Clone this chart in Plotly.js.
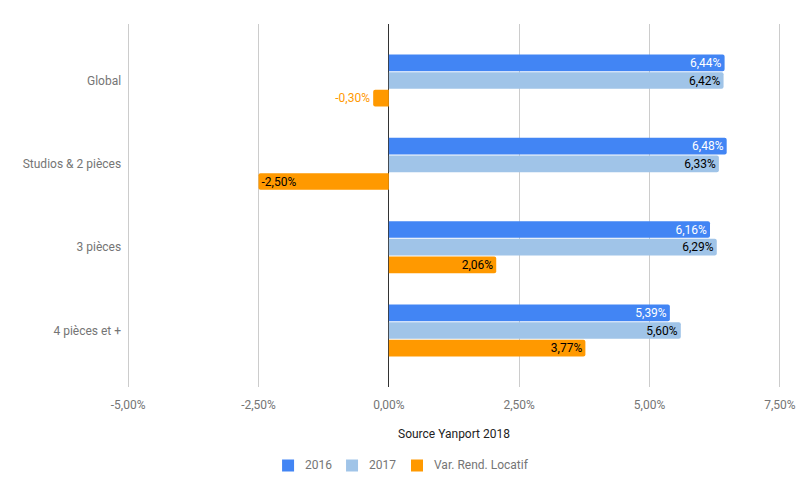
<!DOCTYPE html>
<html>
<head>
<meta charset="utf-8">
<script src="https://cdn.plot.ly/plotly-3.0.1.min.js"></script>
<style>html,body{margin:0;padding:0;background:#fff;}#chart{width:806px;height:498px;}</style>
</head>
<body>
<div id="chart"></div>
<script>
var categories = ["Global", "Studios & 2 pièces", "3 pièces", "4 pièces et +"];
var series2016 = [6.44, 6.48, 6.16, 5.39];
var series2017 = [6.42, 6.33, 6.29, 5.60];
var seriesVar = [-0.30, -2.50, 2.06, 3.77];
var seriesNames = ["2016", "2017", "Var. Rend. Locatif"];
var tickValues = [-5, -2.5, 0, 2.5, 5, 7.5];
var tickLabels = ["-5,00%", "-2,50%", "0,00%", "2,50%", "5,00%", "7,50%"];

function fmt(v) { return v.toFixed(2).replace('.', ',') + '%'; }

var font = "Roboto, Arial, sans-serif";
var colors = ['#4285F4', '#A0C4E8', '#FF9900'];

function mk(name, vals, color, inColor, outColor) {
  return {
    type: 'bar', orientation: 'h', name: name,
    y: categories, x: vals,
    text: vals.map(fmt), textposition: 'auto',
    insidetextanchor: 'end',
    insidetextfont: {family: font, size: 12, color: inColor},
    outsidetextfont: {family: font, size: 12, color: outColor},
    marker: {color: color},
    hoverinfo: 'none', cliponaxis: false, showlegend: false
  };
}

var data = [
  mk(seriesNames[0], series2016, colors[0], '#ffffff', colors[0]),
  mk(seriesNames[1], series2017, colors[1], '#000000', colors[1]),
  mk(seriesNames[2], seriesVar, colors[2], '#000000', '#FF9900')
];

// -5 at x=128px, 7.5 at x=780px; y plot area 24..387
var PXU = (780 - 128) / 12.5;
var PAD = 0.06;
var L = 128 - PAD * PXU, R = 780 + PAD * PXU, T = 24, B = 387;
function px(x) { return (x - L) / (R - L); }
function py(y) { return (B - y) / (B - T); }

// custom legend (positions in pixels)
var legBoxX = [282, 346, 411];
var legTextX = [303, 367, 432];
var legY = 465.5;
var shapes = [], annotations = [];
for (var i = 0; i < 3; i++) {
  shapes.push({type: 'rect', xref: 'paper', yref: 'paper',
    x0: px(legBoxX[i]), x1: px(legBoxX[i] + 12), y0: py(legY - 6), y1: py(legY + 6),
    fillcolor: colors[i], line: {width: 0}});
  annotations.push({xref: 'paper', yref: 'paper', x: px(legTextX[i]), y: py(legY),
    xanchor: 'left', yanchor: 'middle', showarrow: false, text: seriesNames[i],
    font: {family: font, size: 12, color: '#757575'}});
}

var layout = {
  width: 806, height: 498,
  margin: {l: L, r: 806 - R, t: T, b: 498 - B, pad: 0},
  paper_bgcolor: '#fff', plot_bgcolor: '#fff',
  barmode: 'group', bargap: 0.364, bargroupgap: 0.06,
  barcornerradius: 2,
  uniformtext: {minsize: 12, mode: 'show'},
  font: {family: font, size: 12, color: '#757575'},
  showlegend: false,
  xaxis: {
    range: [-5 - PAD, 7.5 + PAD], tickvals: tickValues, ticktext: tickLabels,
    showgrid: true, gridcolor: '#cccccc', gridwidth: 1,
    zeroline: true, zerolinecolor: '#333333', zerolinewidth: 1,
    ticks: 'outside', ticklen: 7, tickcolor: 'rgba(0,0,0,0)',
    tickfont: {family: font, size: 12, color: '#757575'},
    title: {text: 'Source Yanport 2018', font: {family: font, size: 12, color: '#222222'}, standoff: 18},
    fixedrange: true
  },
  yaxis: {
    type: 'category', range: [3.678, -0.678],
    showgrid: false, zeroline: false, ticks: 'outside', ticklen: 0.5, tickcolor: 'rgba(0,0,0,0)',
    tickfont: {family: font, size: 12, color: '#757575'},
    fixedrange: true
  },
  shapes: shapes,
  annotations: annotations
};

Plotly.newPlot('chart', data, layout, {displayModeBar: false, staticPlot: true});
</script>
</body>
</html>
